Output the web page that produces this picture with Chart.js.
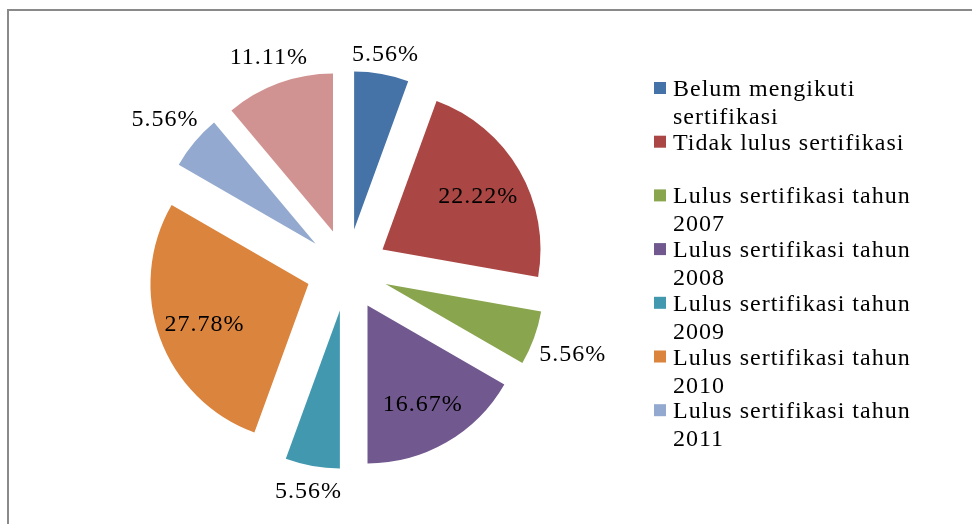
<!DOCTYPE html>
<html>
<head>
<meta charset="utf-8">
<script src="https://cdn.jsdelivr.net/npm/chart.js@4.4.0/dist/chart.umd.min.js"></script>
<style>
html,body{margin:0;padding:0;background:#fff;overflow:hidden}
canvas{display:block}
</style>
</head>
<body>
<canvas id="c" width="972" height="524"></canvas>
<script>
// ---- data ----
const categories = [
  'Belum mengikuti sertifikasi',
  'Tidak lulus sertifikasi',
  'Lulus sertifikasi tahun 2007',
  'Lulus sertifikasi tahun 2008',
  'Lulus sertifikasi tahun 2009',
  'Lulus sertifikasi tahun 2010',
  'Lulus sertifikasi tahun 2011',
  'Lulus sertifikasi tahun 2012'
];
const values = [5.56, 22.22, 5.56, 16.67, 5.56, 27.78, 5.56, 11.11];
const valueLabels = ['5.56%', '22.22%', '5.56%', '16.67%', '5.56%', '27.78%', '5.56%', '11.11%'];
const colors = ['#4572A7', '#AA4643', '#89A54E', '#71588F', '#4198AF', '#DB843D', '#93A9CF', '#D19392'];

// ---- styling ----
const FONT = '24px "Liberation Serif", "Times New Roman", serif';
const EXPLODE = 41;
const RADIUS = 158;

function wrap(ctx, text, maxW) {
  const words = text.split(' ');
  const lines = [];
  let cur = '';
  for (const w of words) {
    const t = cur ? cur + ' ' + w : w;
    if (ctx.measureText(t).width > maxW && cur) { lines.push(cur); cur = w; }
    else cur = t;
  }
  if (cur) lines.push(cur);
  return lines;
}

const piePlugin = {
  id: 'piePlugin',
  beforeDraw(chart) {
    const ctx = chart.ctx;
    ctx.save();
    ctx.fillStyle = '#ffffff';
    ctx.fillRect(0, 0, chart.width, chart.height);
    ctx.strokeStyle = '#8a8a8a';
    ctx.lineWidth = 2;
    ctx.strokeRect(8, 10, 2000, 2000);
    ctx.restore();
  },
  beforeDatasetsDraw(chart) {
    const ca = chart.chartArea;
    const cx = (ca.left + ca.right) / 2, cy = (ca.top + ca.bottom) / 2;
    chart.getDatasetMeta(0).data.forEach(arc => {
      const mid = (arc.startAngle + arc.endAngle) / 2;
      arc.x = cx + Math.cos(mid) * EXPLODE;
      arc.y = cy + Math.sin(mid) * EXPLODE;
    });
  },
  afterDatasetsDraw(chart) {
    const ctx = chart.ctx;
    ctx.save();
    ctx.font = FONT;
    ctx.letterSpacing = '1px';
    ctx.fillStyle = '#000';
    ctx.textAlign = 'center';
    ctx.textBaseline = 'middle';
    chart.getDatasetMeta(0).data.forEach((arc, i) => {
      const mid = (arc.startAngle + arc.endAngle) / 2;
      const r = arc.outerRadius;
      const c = Math.cos(mid), s = Math.sin(mid);
      const txt = valueLabels[i];
      let d;
      if (values[i] >= 15) {
        d = r * 0.7;
      } else {
        const w = ctx.measureText(txt).width;
        d = r + 6 + Math.abs(c) * w / 2 + Math.abs(s) * 11;
      }
      ctx.fillText(txt, arc.x + c * d, arc.y + s * d + 3);
    });
    ctx.restore();
  },
  afterDraw(chart) {
    const ctx = chart.ctx;
    ctx.save();
    ctx.font = FONT;
    ctx.letterSpacing = '1px';
    ctx.textAlign = 'left';
    ctx.textBaseline = 'alphabetic';
    const x0 = 654, tx = 673, maxW = 250;
    const firstBase = 96, entryH = 53.7, lineH = 28, limit = 460;
    for (let i = 0; i < categories.length; i++) {
      const base = firstBase + i * entryH;
      const lines = wrap(ctx, categories[i], maxW);
      if (base + lineH * (lines.length - 1) > limit) break;
      ctx.fillStyle = colors[i];
      ctx.fillRect(x0, base - 14, 12, 12);
      ctx.fillStyle = '#000';
      lines.forEach((ln, k) => ctx.fillText(ln, tx, base + k * lineH));
    }
    ctx.restore();
  }
};

new Chart(document.getElementById('c'), {
  type: 'pie',
  data: {
    labels: categories,
    datasets: [{
      data: values,
      backgroundColor: colors,
      borderWidth: 0,
      radius: RADIUS
    }]
  },
  options: {
    responsive: false,
    devicePixelRatio: 1,
    animation: false,
    events: [],
    layout: { padding: { left: 0, right: 278, top: 16, bottom: 0 } },
    plugins: {
      legend: { display: false },
      tooltip: { enabled: false }
    }
  },
  plugins: [piePlugin]
});
</script>
</body>
</html>
